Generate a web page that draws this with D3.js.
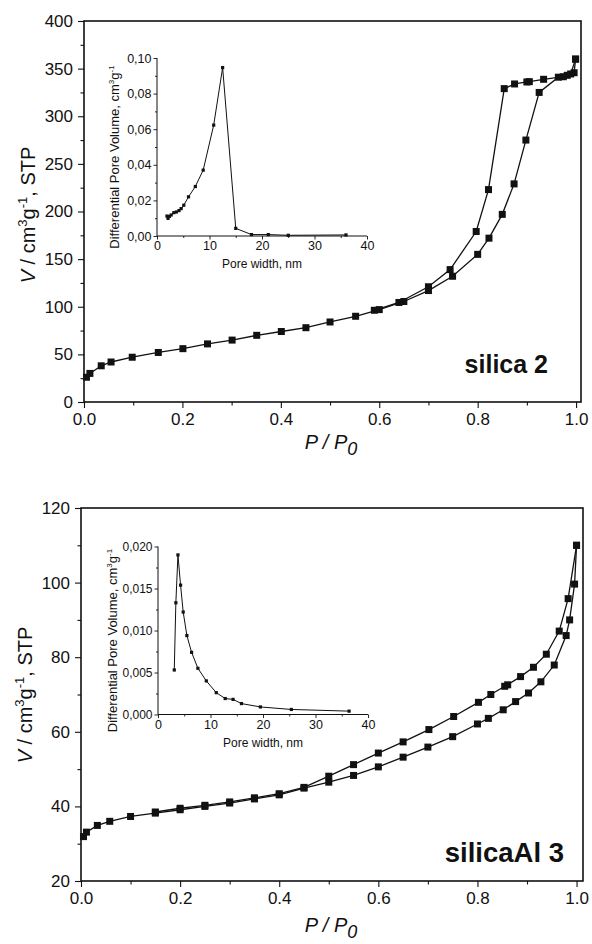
<!DOCTYPE html>
<html><head><meta charset="utf-8">
<script src="https://cdn.jsdelivr.net/npm/d3@7"></script>
<style>
body{margin:0;background:#fff}
svg{display:block}
text{font-family:"Liberation Sans",Arial,Helvetica,sans-serif;fill:#111}
</style>
</head><body>
<svg id="chart" width="592" height="944"></svg>
<script>
// ---------- DATA ----------
// silica 2 : N2 isotherm
const silica2AdsP = [0.005,0.012,0.035,0.055,0.098,0.151,0.201,0.251,0.301,0.351,0.401,0.451,0.500,0.552,0.600,0.650,0.700,0.749,0.800,0.823,0.850,0.874,0.898,0.925,0.964,0.982,0.996,0.999];
const silica2AdsV = [26,30,38,42,47,52,56,61,65,70,74,78,84,90,97,105.5,117,132,155,172,197,229,275,325,341,343,345.7,360];
const silica2DesP = [0.999,0.989,0.974,0.934,0.905,0.900,0.875,0.854,0.822,0.797,0.744,0.700,0.640,0.590];
const silica2DesV = [360,344.4,341.5,338.8,336.3,336,333.9,329,223,179,139,121,104.5,96.3];
// silica 2 : pore size distribution (inset)
const silica2PoreW  = [1.9,2.1,2.35,2.7,3.2,3.7,4.2,4.6,5.1,6.0,7.3,8.8,10.8,12.5,15.0,18.0,21.2,25.0,36.0];
const silica2PoreDV = [0.0112,0.0099,0.0110,0.0118,0.0131,0.0135,0.0143,0.0154,0.0173,0.0220,0.0278,0.0370,0.0623,0.0946,0.0043,0.0008,0.0008,0.0004,0.0006];

// silicaAl 3 : N2 isotherm
const silicaAl3AdsP = [0.005,0.011,0.033,0.058,0.100,0.150,0.200,0.250,0.300,0.350,0.400,0.450,0.500,0.550,0.600,0.650,0.700,0.750,0.800,0.822,0.852,0.877,0.903,0.928,0.955,0.979,0.986,0.996,1.000];
const silicaAl3AdsV = [31.9,33.1,34.9,36.0,37.3,38.2,39.1,40.0,40.9,42.0,43.1,44.9,46.5,48.3,50.6,53.2,55.9,58.7,62.1,63.6,65.9,68.1,70.4,73.4,77.9,85.8,90.0,99.6,110.0];
const silicaAl3DesP = [1.000,0.983,0.965,0.939,0.913,0.887,0.861,0.855,0.827,0.802,0.752,0.702,0.650,0.600,0.550,0.500,0.450,0.400,0.350,0.300,0.250,0.200,0.150];
const silicaAl3DesV = [110.0,95.7,87.0,80.8,77.3,74.8,72.6,72.2,70.0,67.9,64.1,60.6,57.3,54.3,51.2,48.1,45.1,43.4,42.3,41.2,40.3,39.5,38.5];
// silicaAl 3 : pore size distribution (inset)
const silicaAl3PoreW  = [3.1,3.4,3.8,4.3,4.8,5.5,6.4,7.6,9.2,11.1,12.8,14.3,15.9,19.5,25.4,36.4];
const silicaAl3PoreDV = [0.0053,0.0133,0.0190,0.0154,0.0122,0.0094,0.0074,0.0055,0.0040,0.0026,0.0019,0.0018,0.0013,0.0009,0.0006,0.0004];

// ticks
const pTicks = [0,0.2,0.4,0.6,0.8,1.0];
const pMinorTicks = [0.1,0.3,0.5,0.7,0.9];
const silica2VTicks = [0,50,100,150,200,250,300,350,400];
const silica2VMinor = [25,75,125,175,225,275,325,375];
const silicaAl3VTicks = [20,40,60,80,100,120];
const silicaAl3VMinor = [30,50,70,90,110];
const poreWTicks = [0,10,20,30,40];
const poreWMinor = [5,15,25,35];
const silica2DVTicks = [0,0.02,0.04,0.06,0.08,0.10];
const silica2DVMinor = [0.01,0.03,0.05,0.07,0.09];
const silicaAl3DVTicks = [0,0.005,0.010,0.015,0.020];
const silicaAl3DVMinor = [0.0025,0.0075,0.0125,0.0175];

// ---------- DRAWING ----------
const svg = d3.select("#chart");
const INK = "#111";

function zip(a,b){ return a.map((v,i)=>[v,b[i]]); }

function styleAxis(g, fs){
  g.select(".domain").remove();
  g.selectAll(".tick line").attr("stroke", INK).attr("stroke-width", 1.1);
  g.selectAll(".tick text").attr("font-size", fs).attr("fill", INK)
   .attr("font-family", '"Liberation Sans",Arial,sans-serif');
}

function drawPanel(o){
  const x = d3.scaleLinear().domain([0, o.xMax]).range([o.left, o.right]);
  const y = d3.scaleLinear().domain(o.yDomain).range([o.bottom, o.top]);
  const g = svg.append("g");

  // ticks
  const gx = g.append("g").attr("transform", `translate(0,${o.bottom})`)
    .call(d3.axisBottom(x).tickValues(pTicks).tickSize(6).tickPadding(5).tickFormat(d3.format(".1f")));
  styleAxis(gx, 17);
  const gxm = g.append("g").attr("transform", `translate(0,${o.bottom})`)
    .call(d3.axisBottom(x).tickValues(pMinorTicks).tickSize(3.5).tickFormat(""));
  styleAxis(gxm, 17);
  const gy = g.append("g").attr("transform", `translate(${o.left},0)`)
    .call(d3.axisLeft(y).tickValues(o.yTicks).tickSize(6).tickPadding(5).tickFormat(d3.format("d")));
  styleAxis(gy, 17);
  const gym = g.append("g").attr("transform", `translate(${o.left},0)`)
    .call(d3.axisLeft(y).tickValues(o.yMinor).tickSize(3.5).tickFormat(""));
  styleAxis(gym, 17);

  // frame
  g.append("rect").attr("x", o.left).attr("y", o.top)
    .attr("width", o.right - o.left).attr("height", o.bottom - o.top)
    .attr("fill", "none").attr("stroke", INK).attr("stroke-width", 1.6);

  // curves
  const line = d3.line().x(d => x(d[0])).y(d => y(d[1]));
  const ads = zip(o.adsP, o.adsV), des = zip(o.desP, o.desV);
  [ads, des].forEach(s => g.append("path").attr("d", line(s))
    .attr("fill", "none").attr("stroke", INK).attr("stroke-width", 1.3));
  const ms = 7;
  g.selectAll(null).data(ads.concat(des)).enter().append("rect")
    .attr("x", d => x(d[0]) - ms/2).attr("y", d => y(d[1]) - ms/2)
    .attr("width", ms).attr("height", ms).attr("fill", INK);

  // axis titles
  const yl = g.append("text").attr("transform", `translate(${o.left - 49},${o.yLabelC}) rotate(-90)`)
    .attr("text-anchor", "middle").attr("font-size", 20);
  yl.append("tspan").attr("font-style", "italic").text("V");
  yl.append("tspan").text(" / cm");
  yl.append("tspan").attr("font-size", 13).attr("dy", -8).text("3");
  yl.append("tspan").attr("dy", 8).text("g");
  yl.append("tspan").attr("font-size", 13).attr("dy", -8).text("-1");
  yl.append("tspan").attr("dy", 8).text(", STP");

  const xl = g.append("text").attr("x", o.xLabelC).attr("y", o.xLabelY)
    .attr("text-anchor", "middle").attr("font-size", 20).attr("font-style", "italic");
  xl.append("tspan").text("P / P");
  xl.append("tspan").attr("font-size", 18).attr("dy", 6).text("0");

  // sample name
  g.append("text").attr("x", o.nameX).attr("y", o.nameY).attr("text-anchor", "end")
    .attr("font-size", o.nameSize).attr("font-weight", "bold").text(o.name);

  // inset
  const I = o.inset;
  const ix = d3.scaleLinear().domain([0, 40]).range([I.left, I.right]);
  const iy = d3.scaleLinear().domain(I.yDomain).range([I.bottom, I.top]);
  const ig = g.append("g");
  const fmt = v => d3.format(I.fmt)(v).replace(".", ",");
  const igx = ig.append("g").attr("transform", `translate(0,${I.bottom})`)
    .call(d3.axisBottom(ix).tickValues(poreWTicks).tickSize(3.5).tickPadding(2).tickFormat(d3.format("d")));
  styleAxis(igx, 12.5);
  const igxm = ig.append("g").attr("transform", `translate(0,${I.bottom})`)
    .call(d3.axisBottom(ix).tickValues(poreWMinor).tickSize(2).tickFormat(""));
  styleAxis(igxm, 12.5);
  const igy = ig.append("g").attr("transform", `translate(${I.left},0)`)
    .call(d3.axisLeft(iy).tickValues(I.yTicks).tickSize(3.5).tickPadding(2).tickFormat(fmt));
  styleAxis(igy, I.tickFs);
  const igym = ig.append("g").attr("transform", `translate(${I.left},0)`)
    .call(d3.axisLeft(iy).tickValues(I.yMinor).tickSize(2).tickFormat(""));
  styleAxis(igym, 12.5);
  ig.selectAll(".tick line").attr("stroke-width", 0.9);
  ig.append("line").attr("x1", I.left).attr("x2", I.right).attr("y1", I.bottom).attr("y2", I.bottom)
    .attr("stroke", INK).attr("stroke-width", 1);
  ig.append("line").attr("x1", I.left).attr("x2", I.left).attr("y1", I.bottom).attr("y2", I.top)
    .attr("stroke", INK).attr("stroke-width", 1);

  const pts = zip(I.w, I.dv);
  const iline = d3.line().x(d => ix(d[0])).y(d => iy(d[1]));
  ig.append("path").attr("d", iline(pts)).attr("fill", "none").attr("stroke", INK).attr("stroke-width", 1);
  const im = 3.2;
  ig.selectAll(null).data(pts).enter().append("rect")
    .attr("x", d => ix(d[0]) - im/2).attr("y", d => iy(d[1]) - im/2)
    .attr("width", im).attr("height", im).attr("fill", INK);

  ig.append("text").attr("x", (I.left + I.right)/2).attr("y", I.bottom + 32)
    .attr("text-anchor", "middle").attr("font-size", 12).text("Pore width, nm");
  const iyl = ig.append("text")
    .attr("transform", `translate(${I.left - I.labelOff},${(I.top + I.bottom)/2 + 10}) rotate(-90)`)
    .attr("text-anchor", "middle").attr("font-size", 13);
  iyl.append("tspan").text("Differential Pore Volume, cm");
  iyl.append("tspan").attr("font-size", 8).attr("dy", -5).text("3");
  iyl.append("tspan").attr("dy", 5).text("g");
  iyl.append("tspan").attr("font-size", 8).attr("dy", -5).text("-1");
}

drawPanel({
  left: 84, right: 581, top: 21, bottom: 402, xMax: 1.01,
  yDomain: [0, 400], yTicks: silica2VTicks, yMinor: silica2VMinor,
  adsP: silica2AdsP, adsV: silica2AdsV, desP: silica2DesP, desV: silica2DesV,
  yLabelC: 215, xLabelC: 331, xLabelY: 449,
  name: "silica 2", nameX: 548, nameY: 373, nameSize: 25,
  inset: { left: 157, right: 367, top: 58, bottom: 236, yDomain: [0, 0.10],
    yTicks: silica2DVTicks, yMinor: silica2DVMinor, fmt: ".2f", tickFs: 12.5, labelOff: 38,
    w: silica2PoreW, dv: silica2PoreDV }
});

drawPanel({
  left: 81, right: 583, top: 508, bottom: 881, xMax: 1.013,
  yDomain: [20, 120], yTicks: silicaAl3VTicks, yMinor: silicaAl3VMinor,
  adsP: silicaAl3AdsP, adsV: silicaAl3AdsV, desP: silicaAl3DesP, desV: silicaAl3DesV,
  yLabelC: 695, xLabelC: 331, xLabelY: 932,
  name: "silicaAl 3", nameX: 564, nameY: 862, nameSize: 27.5,
  inset: { left: 158, right: 368, top: 546.5, bottom: 714.5, yDomain: [0, 0.020],
    yTicks: silicaAl3DVTicks, yMinor: silicaAl3DVMinor, fmt: ".3f", tickFs: 12, labelOff: 41,
    w: silicaAl3PoreW, dv: silicaAl3PoreDV }
});
</script>
</body></html>
